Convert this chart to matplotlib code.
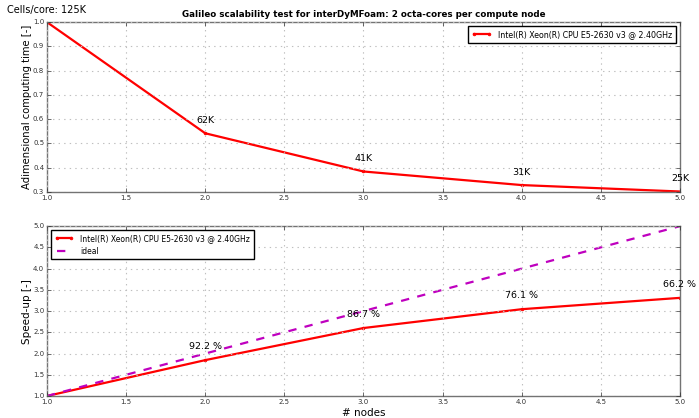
import numpy as np
import matplotlib
matplotlib.use("Agg")
import matplotlib.pyplot as plt

plt.style.use('classic')

nodes = [1, 2, 3, 4, 5]
adim_time = [1.0, 0.542, 0.3845, 0.3285, 0.302]
cells_labels = ["", "62K", "41K", "31K", "25K"]
efficiency = [100.0, 92.2, 86.7, 76.1, 66.2]
cpu_name = "Intel(R) Xeon(R) CPU E5-2630 v3 @ 2.40GHz"

speedup = [1.0 / t for t in adim_time]

fig = plt.figure(figsize=(6.99, 4.18), dpi=100)
fig.patch.set_facecolor('white')
ax1 = fig.add_axes([0.0672, 0.5407, 0.9056, 0.4063])
ax2 = fig.add_axes([0.0672, 0.0526, 0.9056, 0.4064])

fig.text(0.01, 0.977, "Cells/core: 125K", fontsize=7, va='center')

# tiempo adimensional
ax1.plot(nodes, adim_time, 'r.-', lw=1.6, ms=4, label=cpu_name)
for x, y, s in zip(nodes, adim_time, cells_labels):
    if s:
        ax1.text(x, y + 0.033, s, ha='center', va='bottom', fontsize=6.8)
ax1.set_xlim(1, 5)
ax1.set_ylim(0.3, 1.0)
ax1.set_title('Galileo scalability test for interDyMFoam: 2 octa-cores per compute node',
              fontsize=6.3, fontweight='bold', pad=4)
ax1.set_ylabel('Adimensional computing time [-]', fontsize=7.2, labelpad=1)
ax1.legend(loc='upper right', fontsize=5.7, numpoints=2, framealpha=1,
           handlelength=2.5, borderpad=0.5)

# speed-up
ax2.plot(nodes, speedup, 'r.-', lw=1.6, ms=4, label=cpu_name)
ax2.plot(nodes, nodes, 'm--', lw=1.6, label='ideal')
for x, y, e in zip(nodes[1:], speedup[1:], efficiency[1:]):
    ax2.text(x, y + 0.22, "%.1f %%" % e, ha='center', va='bottom', fontsize=6.8)
ax2.set_xlim(1, 5)
ax2.set_ylim(1, 5)
ax2.set_ylabel('Speed-up [-]', fontsize=7.5, labelpad=1)
ax2.set_xlabel('# nodes', fontsize=7.5, labelpad=2)
ax2.legend(loc='upper left', fontsize=5.5, numpoints=2, framealpha=1,
           handlelength=2.5, borderpad=0.5)

for ax in (ax1, ax2):
    ax.grid(True, color='0.75', linestyle=':', lw=0.8)
    ax.tick_params(labelsize=5, pad=2, length=3, colors='0.2')
    ax.set_xticks(np.arange(1.0, 5.01, 0.5))
    for sp in ax.spines.values():
        sp.set_color('0.45')
ax1.set_yticks(np.arange(0.3, 1.001, 0.1))
ax2.set_yticks(np.arange(1.0, 5.01, 0.5))

fig.savefig('out.png', dpi=100, facecolor='white')
